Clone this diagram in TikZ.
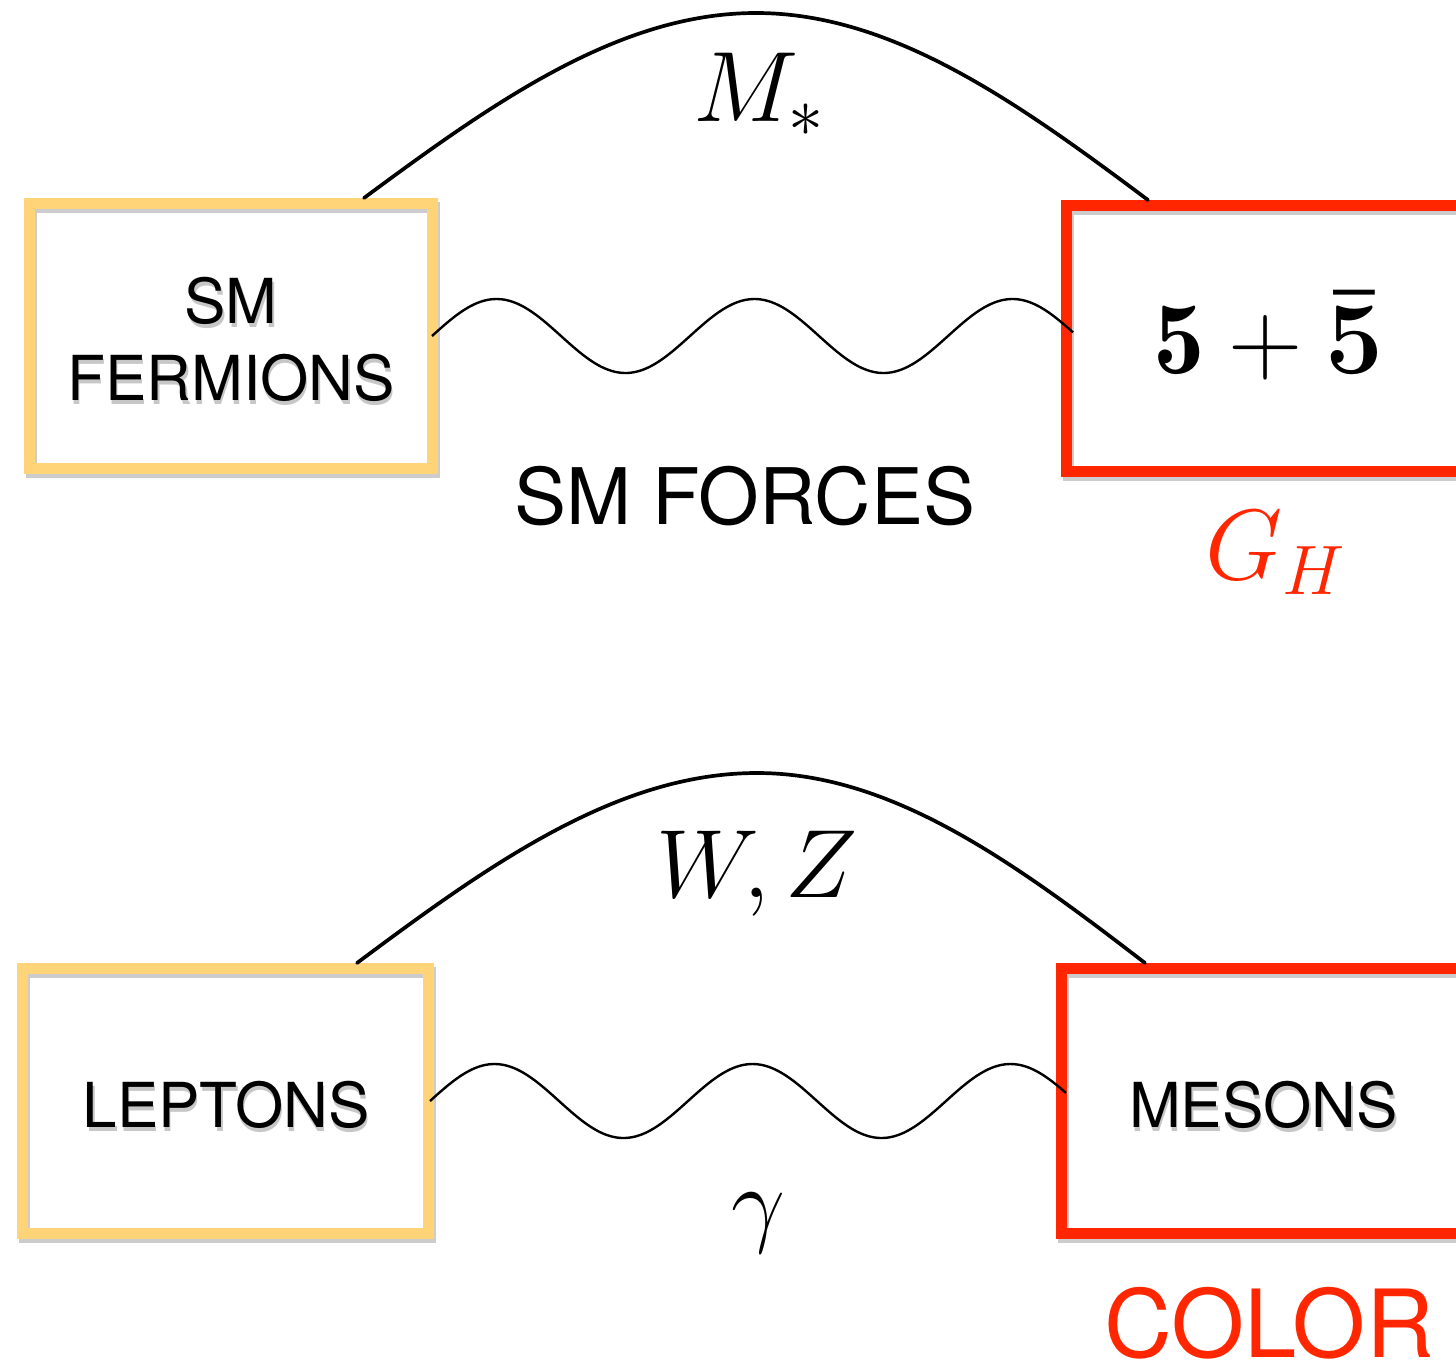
\documentclass[tikz,border=0pt]{standalone}
\usepackage{fix-cm}
\usepackage{fontspec}
\newfontfamily\heros{TeX Gyre Heros}
\definecolor{boxyellow}{RGB}{255,212,121}
\definecolor{boxred}{RGB}{255,38,0}
\begin{document}
\begin{tikzpicture}[x=1pt,y=-1pt,
  frame/.style={draw, line width=11pt, inner sep=0pt, minimum height=265pt},
  frameshadow/.style={frame, draw=black, draw opacity=0.2},
  lbl/.style={font=\heros\fontsize{62}{74}\selectfont, inner sep=0pt, anchor=base},
  lblshadow/.style={lbl, text=black, text opacity=0.22},
  bigsans/.style={inner sep=0pt, anchor=base},
  mathlbl/.style={font=\fontsize{100}{115}\selectfont, inner sep=0pt, anchor=base},
  arcline/.style={draw, line width=3.7pt, line cap=round},
  waveline/.style={draw, line width=2.4pt}]
\useasboundingbox (0,0) rectangle (1456,1361);
\clip (0,0) rectangle (1456,1361);

% frame shadows
\node[frameshadow, minimum width=403pt] (ferS) at (233,340) {};
\node[frameshadow, minimum width=403pt, minimum height=266pt] (fiveS) at (1270,342.5) {};
\node[frameshadow, minimum width=406pt] (lepS) at (227.5,1105) {};
\node[frameshadow, minimum width=406pt] (mesS) at (1266.5,1105) {};

% frames
\node[frame, draw=boxyellow, minimum width=403pt] (fer) at (231,336) {};
\node[frame, draw=boxred, minimum width=403pt, minimum height=266pt] (five) at (1268,338.5) {};
\node[frame, draw=boxyellow, minimum width=406pt] (lep) at (225.5,1101) {};
\node[frame, draw=boxred, minimum width=406pt] (mes) at (1264.5,1101) {};

% box texts with shadows
\node[lblshadow] (smS) at (232.5,327) {SM};
\node[lblshadow] (fermS) at (232.5,404) {FERMIONS};
\node[lbl] (sm) at (231,323) {SM};
\node[lbl] (ferm) at (231,400) {FERMIONS};
\node[lblshadow] (leptS) at (227.5,1131) {LEPTONS};
\node[lbl] (lept) at (226,1127) {LEPTONS};
\node[lblshadow] (mesoS) at (1265,1131) {MESONS};
\node[lbl] (meso) at (1263.5,1127) {MESONS};

\node[mathlbl, font=\fontsize{103}{118}\selectfont] (fivetxt) at (1268.5,373)
  {$\mathbf{5}+\mbox{\boldmath$\bar{\mathbf{5}}$}$};

% other labels
\node[bigsans, font=\heros\fontsize{78}{90}\selectfont] (forces) at (744.5,524) {SM FORCES};
\node[bigsans, font=\heros\fontsize{94}{108}\selectfont, text=boxred] (color) at (1269,1357) {COLOR};
\node[mathlbl] (mstar) at (759,121) {$M_*$};
\node[mathlbl, text=boxred] (gh) at (1275,579) {$G_H$};
\node[mathlbl, font=\fontsize{97}{112}\selectfont] (wz) at (757,897) {$W,Z$};
\node[mathlbl, font=\fontsize{96}{110}\selectfont] (gam) at (758,1234) {$\gamma$};

% arcs
\coordinate (a1l) at ([xshift=-74pt]fer.north east);
\coordinate (a1r) at ([xshift=87pt]five.north west);
\coordinate (a1t) at (756,13);
\draw[arcline] (a1l) .. controls +(131,-97) and +(-136,0) .. (a1t)
  .. controls +(136,0) and +(-131,-98) .. (a1r);

\coordinate (a2l) at ([xshift=-77pt]lep.north east);
\coordinate (a2r) at ([xshift=89pt]mes.north west);
\coordinate (a2t) at (757,773);
\draw[arcline] (a2l) .. controls +(134,-100) and +(-139,0) .. (a2t)
  .. controls +(135,0) and +(-130,-100) .. (a2r);

% waves
\coordinate (w1s) at ([xshift=-6pt]fer.east);
\coordinate (w1e) at ([xshift=12pt]five.west);
\draw[waveline, shift={(w1s)}] plot[domain=0:641, samples=240, smooth] (\x, {-37*sin(1.395349*\x)});
\coordinate (w2s) at ([xshift=-4pt]lep.east);
\coordinate (w2e) at ([xshift=10pt]mes.west);
\draw[waveline, shift={(w2s)}] plot[domain=0:636, samples=240, smooth] (\x, {-37*sin(1.395349*\x)});
\end{tikzpicture}
\end{document}
